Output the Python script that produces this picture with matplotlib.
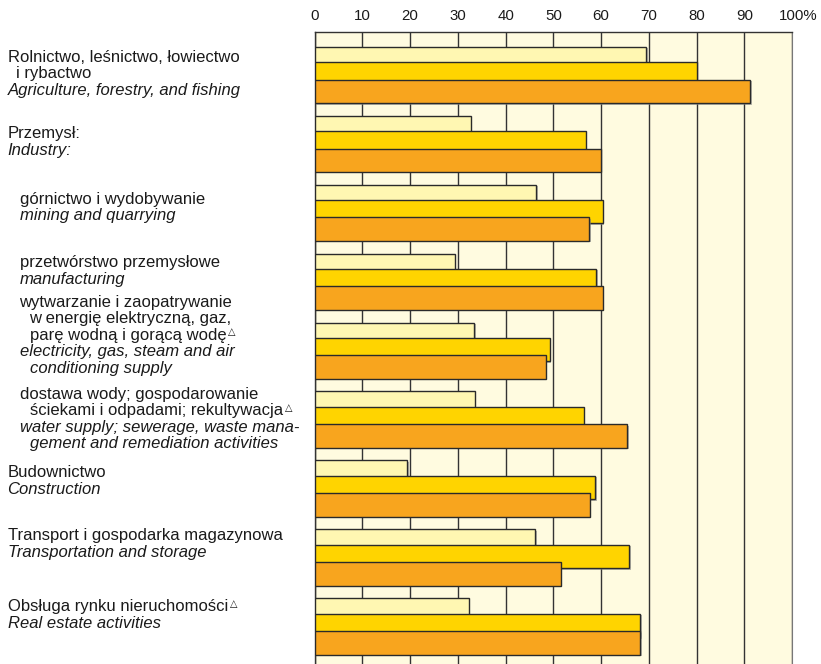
import matplotlib
matplotlib.use('Agg')
import matplotlib.pyplot as plt
import matplotlib.patheffects as pe
import matplotlib.transforms as mtransforms
import numpy as np

plt.rcParams['font.family'] = ['Liberation Sans', 'DejaVu Sans']

# values (%), three series per sector
light = [69.5, 32.7, 46.4, 29.4, 33.4, 33.5, 19.4, 46.2, 32.3]
yellow = [80.0, 56.8, 60.3, 59.0, 49.2, 56.4, 58.8, 65.9, 68.2]
orange = [91.3, 60.0, 57.5, 60.3, 48.4, 65.5, 57.6, 51.5, 68.2]

# label lines: (text, italic, indent in px, superscript triangle)
labels = [
    [("Rolnictwo, leśnictwo, łowiectwo", False, 0, False),
     ("i rybactwo", False, 8, False),
     ("Agriculture, forestry, and fishing", True, 0, False)],
    [("Przemysł:", False, 0, False),
     ("Industry:", True, 0, False)],
    [("górnictwo i wydobywanie", False, 12, False),
     ("mining and quarrying", True, 12, False)],
    [("przetwórstwo przemysłowe", False, 12, False),
     ("manufacturing", True, 12, False)],
    [("wytwarzanie i zaopatrywanie", False, 12, False),
     ("w energię elektryczną, gaz,", False, 22, False),
     ("parę wodną i gorącą wodę", False, 22, True),
     ("electricity, gas, steam and air", True, 12, False),
     ("conditioning supply", True, 22, False)],
    [("dostawa wody; gospodarowanie", False, 12, False),
     ("ściekami i odpadami; rekultywacja", False, 22, True),
     ("water supply; sewerage, waste mana-", True, 12, False),
     ("gement and remediation activities", True, 22, False)],
    [("Budownictwo", False, 0, False),
     ("Construction", True, 0, False)],
    [("Transport i gospodarka magazynowa", False, 0, False),
     ("Transportation and storage", True, 0, False)],
    [("Obsługa rynku nieruchomości", False, 0, True),
     ("Real estate activities", True, 0, False)],
]
first_line = [0.218, 0.323, 0.276, 0.198, -0.231, 0.102, 0.24, 0.16, 0.19]

xticks = [0, 10, 20, 30, 40, 50, 60, 70, 80, 90, 100]
xticklabels = ['0', '10', '20', '30', '40', '50', '60', '70', '80', '90', '100%']

c_light = '#fff7b2'
c_yellow = '#ffd400'
c_orange = '#f8a51e'
c_bg = '#fffbe0'

fig = plt.figure(figsize=(8.21, 6.64), dpi=100)
ax = fig.add_axes([0.3833, -0.002, 0.5814, 0.9538])
ax.set_facecolor(c_bg)

pos = np.arange(len(light))
h = 0.342
shadow = [pe.SimplePatchShadow(offset=(1, -1), shadow_rgbFace='#888888', alpha=0.6), pe.Normal()]
for vals, col, off in [(light, c_light, 0.171), (yellow, c_yellow, 0.392), (orange, c_orange, 0.647)]:
    bars = ax.barh(pos + off, vals, height=h, color=col, edgecolor='#2a2a2a', linewidth=1.0, zorder=3)
    for b in bars:
        b.set_path_effects(shadow)

ax.set_xlim(0, 100)
ax.set_ylim(8.972, -0.2137)
ax.set_xticks(xticks)
ax.set_xticklabels(xticklabels, fontsize=10.8, color='#1a1a1a')
ax.xaxis.tick_top()
ax.tick_params(axis='x', length=0, pad=6.3)
# "100" centred on the tick, "%" hanging to the right
last = ax.get_xticklabels()[-1]
last.set_transform(last.get_transform() + mtransforms.ScaledTranslation(6.5 / 100, 0, fig.dpi_scale_trans))
ax.set_yticks([])
ax.grid(axis='x', color='#333333', linewidth=1.0)
ax.set_axisbelow(True)
for s in ['top', 'left']:
    ax.spines[s].set_color('#333333')
    ax.spines[s].set_linewidth(1.0)
ax.spines['right'].set_color('#777777')
ax.spines['bottom'].set_visible(False)

# left-hand labels
line_step = 0.24
for i, block in enumerate(labels):
    for j, (txt, ital, indent, tri) in enumerate(block):
        y = pos[i] + first_line[i] + j * line_step
        t = ax.annotate(txt, xy=(0, y), xycoords=('figure pixels', 'data'),
                        xytext=(7.5 + indent, 0), textcoords='offset pixels',
                        ha='left', va='baseline', fontsize=12.0,
                        style='italic' if ital else 'normal', color='#1a1a1a',
                        annotation_clip=False)
        if tri:
            # small open triangle, raised above the baseline
            ax.annotate('△', xy=(1, y), xycoords=(t, 'data'), xytext=(2, 4.5),
                        textcoords='offset pixels', ha='left', va='baseline',
                        fontsize=7, family='DejaVu Sans', color='#1a1a1a',
                        annotation_clip=False)

fig.savefig('out.png', dpi=100)
